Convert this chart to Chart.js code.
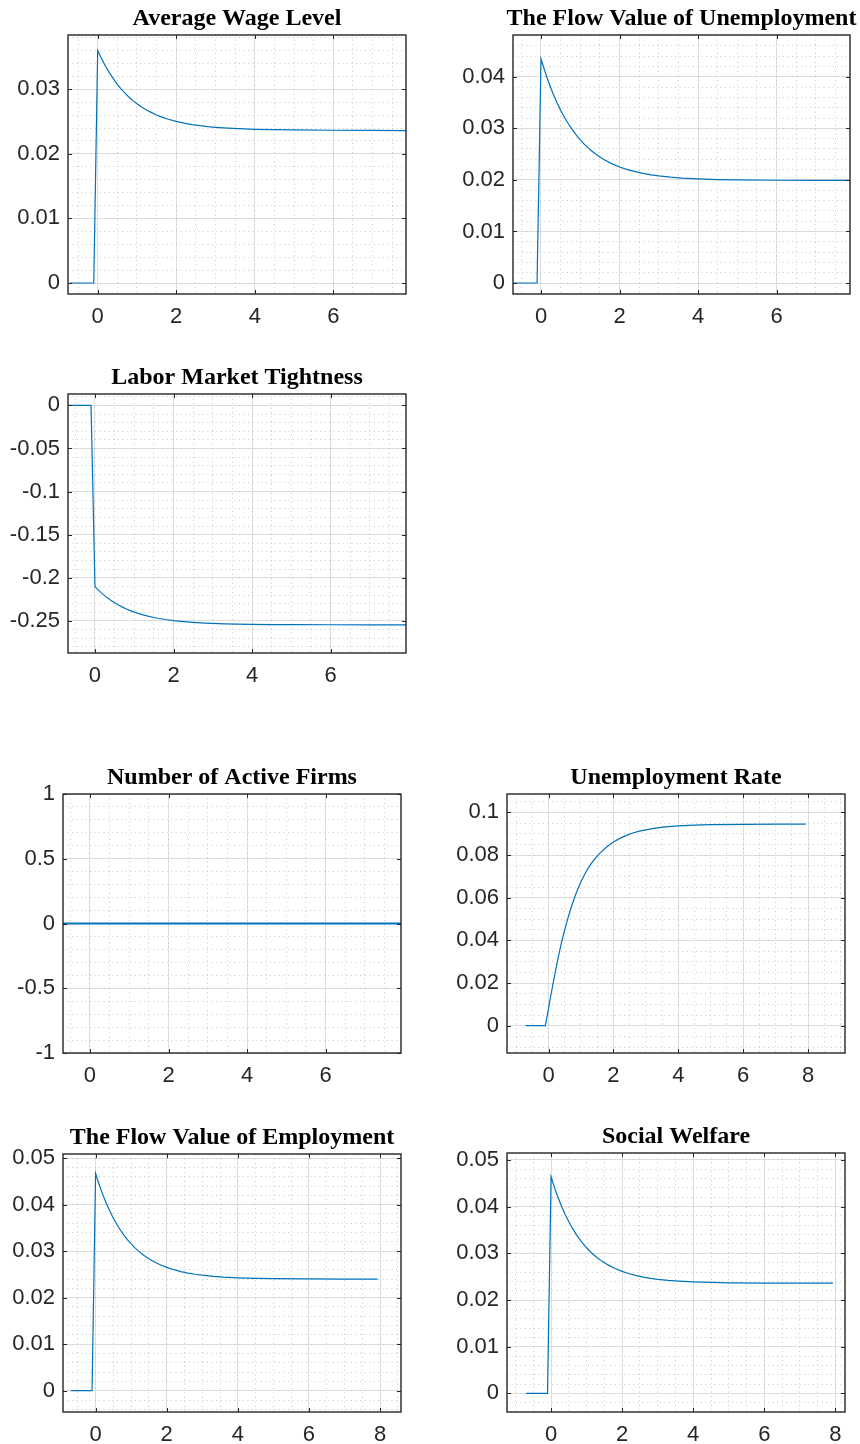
<!DOCTYPE html>
<html>
<head>
<meta charset="utf-8">
<script src="https://cdn.jsdelivr.net/npm/chart.js@4.4.1/dist/chart.umd.min.js"></script>
<style>
  html, body { margin: 0; padding: 0; background: #fff; overflow: hidden; }
  #page { position: relative; width: 860px; height: 1444px; overflow: hidden; }
  #page canvas { position: absolute; }
</style>
</head>
<body>
<div id="page"></div>
<script>
// time after the shock (shared by all panels)
var t = [-0.7, -0.1, 0, 0.05, 0.1, 0.15, 0.2, 0.3, 0.4, 0.5, 0.6, 0.7, 0.8, 0.9, 1.0,
         1.1, 1.2, 1.3, 1.4, 1.5, 1.6, 1.8, 2.0, 2.2, 2.4, 2.6, 2.8, 3.0,
         3.3, 3.6, 4.0, 4.5, 5, 6, 7, 7.93];

// responses
var avgWage = [0, 0, 0.03600, 0.03534, 0.03471, 0.03412, 0.03356, 0.03253, 0.03160, 0.03077, 0.03003, 0.02937, 0.02877, 0.02824, 0.02776,
               0.02733, 0.02695, 0.02661, 0.02630, 0.02602, 0.02577, 0.02536, 0.02502, 0.02475, 0.02453, 0.02436, 0.02422, 0.02411,
               0.02398, 0.02389, 0.02380, 0.02374, 0.02370, 0.02365, 0.02362, 0.02360];
var flowUnemp = [0, 0, 0.04350, 0.04224, 0.04104, 0.03991, 0.03884, 0.03687, 0.03510, 0.03352, 0.03210, 0.03083, 0.02969, 0.02867, 0.02776,
                 0.02694, 0.02620, 0.02555, 0.02496, 0.02443, 0.02396, 0.02316, 0.02251, 0.02200, 0.02159, 0.02125, 0.02099, 0.02077,
                 0.02053, 0.02035, 0.02019, 0.02007, 0.02000, 0.01993, 0.01991, 0.01990];
var tightness = [0, 0, -0.21020, -0.21257, -0.21482, -0.21694, -0.21895, -0.22265, -0.22597, -0.22894, -0.23160, -0.23399, -0.23612, -0.23804, -0.23975,
                 -0.24129, -0.24267, -0.24390, -0.24500, -0.24599, -0.24688, -0.24838, -0.24959, -0.25056, -0.25134, -0.25196, -0.25246, -0.25287,
                 -0.25333, -0.25365, -0.25396, -0.25419, -0.25432, -0.25444, -0.25448, -0.25450];
var activeFirms = [0, 0, 0, 0, 0, 0, 0, 0, 0, 0, 0, 0, 0, 0, 0,
                   0, 0, 0, 0, 0, 0, 0, 0, 0, 0, 0, 0, 0,
                   0, 0, 0, 0, 0, 0, 0, 0];
var unempRate = [0, 0, 0.0080, 0.0125, 0.0165, 0.0205, 0.0245, 0.0320, 0.0390, 0.0450, 0.0505, 0.0555, 0.0600, 0.0640, 0.0675,
                 0.0705, 0.0733, 0.0756, 0.0777, 0.0795, 0.0811, 0.0839, 0.0861, 0.0878, 0.0892, 0.0903, 0.0912, 0.0918,
                 0.0926, 0.0932, 0.0937, 0.0940, 0.0942, 0.0944, 0.0945, 0.0945];
var flowEmp = [0, 0, 0.04670, 0.04549, 0.04433, 0.04325, 0.04222, 0.04032, 0.03862, 0.03710, 0.03573, 0.03451, 0.03342, 0.03244, 0.03156,
               0.03077, 0.03006, 0.02943, 0.02887, 0.02836, 0.02790, 0.02713, 0.02652, 0.02602, 0.02562, 0.02530, 0.02504, 0.02484,
               0.02460, 0.02443, 0.02428, 0.02416, 0.02409, 0.02403, 0.02401, 0.02400];
var welfare = [0, 0, 0.04640, 0.04518, 0.04402, 0.04293, 0.04190, 0.03999, 0.03828, 0.03675, 0.03539, 0.03416, 0.03306, 0.03207, 0.03119,
               0.03040, 0.02969, 0.02906, 0.02849, 0.02798, 0.02752, 0.02675, 0.02613, 0.02563, 0.02523, 0.02491, 0.02465, 0.02444,
               0.02420, 0.02404, 0.02388, 0.02376, 0.02369, 0.02363, 0.02361, 0.02360];

// tick values
var xTicksTo6 = [0, 2, 4, 6];
var xTicksTo8 = [0, 2, 4, 6, 8];
var yTicksWage  = [0, 0.01, 0.02, 0.03];
var yTicksFlowU = [0, 0.01, 0.02, 0.03, 0.04];
var yTicksTight = [-0.25, -0.2, -0.15, -0.1, -0.05, 0];
var yTicksFirms = [-1, -0.5, 0, 0.5, 1];
var yTicksUnemp = [0, 0.02, 0.04, 0.06, 0.08, 0.1];
var yTicksFlowE = [0, 0.01, 0.02, 0.03, 0.04, 0.05];

var YW = 62, XH = 40, TH = 35;
var INK = '#262626';

// box = [left, top, width, height] of the axes box on the page
var panels = [
  {title: 'Average Wage Level', y: avgWage, box: [68, 35, 338, 259], xr: [-0.756, 7.85], yr: [-0.0017, 0.0384], xt: xTicksTo6, yt: yTicksWage, ym: 0.002},
  {title: 'The Flow Value of Unemployment', y: flowUnemp, box: [513, 35, 337, 259], xr: [-0.713, 7.87], yr: [-0.00213, 0.0481], xt: xTicksTo6, yt: yTicksFlowU, ym: 0.002},
  {title: 'Labor Market Tightness', y: tightness, box: [68, 394, 338, 259], xr: [-0.687, 7.92], yr: [-0.2872, 0.0132], xt: xTicksTo6, yt: yTicksTight, ym: 0.01},
  {title: 'Number of Active Firms', y: activeFirms, box: [63, 794, 338, 259], xr: [-0.687, 7.92], yr: [-1, 1], xt: xTicksTo6, yt: yTicksFirms, ym: 0.1, lw: 2},
  {title: 'Unemployment Rate', y: unempRate, box: [507, 794, 338, 259], xr: [-1.28, 9.14], yr: [-0.0128, 0.1086], xt: xTicksTo8, yt: yTicksUnemp, ym: 0.005},
  {title: 'The Flow Value of Employment', y: flowEmp, box: [63, 1154, 338, 258], xr: [-0.917, 8.59], yr: [-0.00458, 0.0509], xt: xTicksTo8, yt: yTicksFlowE, ym: 0.002},
  {title: 'Social Welfare', y: welfare, box: [507, 1153, 338, 259], xr: [-1.24, 8.27], yr: [-0.004, 0.0515], xt: xTicksTo8, yt: yTicksFlowE, ym: 0.002}
];

function minorTicks(lo, hi, step) {
  var out = [];
  for (var k = Math.ceil(lo / step - 1e-9); k * step <= hi + 1e-9; k++) {
    out.push({value: +(k * step).toFixed(6)});
  }
  return out;
}

// axes box with inward ticks, like the original figure
var framePlugin = {
  id: 'frame',
  afterDraw: function(chart) {
    var a = chart.chartArea, ctx = chart.ctx;
    var l = Math.round(a.left), r = Math.round(a.right), tp = Math.round(a.top), b = Math.round(a.bottom);
    ctx.save();
    ctx.strokeStyle = INK;
    ctx.lineWidth = 1.4;
    ctx.strokeRect(l, tp, r - l, b - tp);
    ctx.lineWidth = 1;
    ctx.beginPath();
    chart.scales.x.ticks.forEach(function(tk) {
      var px = Math.round(chart.scales.x.getPixelForValue(tk.value)) + 0.5;
      ctx.moveTo(px, b); ctx.lineTo(px, b - 4);
      ctx.moveTo(px, tp); ctx.lineTo(px, tp + 4);
    });
    chart.scales.y.ticks.forEach(function(tk) {
      var py = Math.round(chart.scales.y.getPixelForValue(tk.value)) + 0.5;
      ctx.moveTo(l, py); ctx.lineTo(l + 4, py);
      ctx.moveTo(r, py); ctx.lineTo(r - 4, py);
    });
    ctx.stroke();
    ctx.restore();
  }
};

var page = document.getElementById('page');
var tickFont = {family: 'Liberation Sans', size: 22};

panels.forEach(function(p) {
  var w = p.box[2] + 2 * YW, h = TH + p.box[3] + XH;
  var c = document.createElement('canvas');
  c.width = w; c.height = h;
  c.style.left = (p.box[0] - YW) + 'px';
  c.style.top = (p.box[1] - TH) + 'px';
  c.style.width = w + 'px'; c.style.height = h + 'px';
  page.appendChild(c);

  new Chart(c, {
    type: 'line',
    data: {
      datasets: [{
        data: t.map(function(x, i) { return {x: x, y: p.y[i]}; }),
        borderColor: '#0072BD',
        borderWidth: p.lw || 1.2,
        pointRadius: 0,
        tension: 0,
        fill: false,
        xAxisID: 'x',
        yAxisID: 'y'
      }]
    },
    options: {
      responsive: false,
      animation: false,
      events: [],
      layout: {padding: 0},
      plugins: {
        legend: {display: false},
        tooltip: {enabled: false},
        title: {
          display: true,
          text: p.title,
          color: '#000',
          font: {family: 'Liberation Serif', size: 24, weight: 'bold', lineHeight: 1.2},
          padding: {top: 4.4, bottom: 1.8}
        }
      },
      scales: {
        x: {
          type: 'linear', position: 'bottom', min: p.xr[0], max: p.xr[1],
          afterBuildTicks: function(s) { s.ticks = p.xt.map(function(v) { return {value: v}; }); },
          afterFit: function(s) { s.height = XH; },
          ticks: {padding: 10, color: INK, font: tickFont, autoSkip: false, maxRotation: 0,
                  callback: function(v) { return String(v); }},
          grid: {color: '#e2e2e2', lineWidth: 1, drawTicks: false},
          border: {display: false}
        },
        y: {
          type: 'linear', position: 'left', min: p.yr[0], max: p.yr[1],
          afterBuildTicks: function(s) { s.ticks = p.yt.map(function(v) { return {value: v}; }); },
          afterFit: function(s) { s.width = YW; },
          ticks: {padding: 8, color: INK, font: tickFont, autoSkip: false,
                  callback: function(v) { return String(v); }},
          grid: {color: '#e2e2e2', lineWidth: 1, drawTicks: false},
          border: {display: false}
        },
        xm: {
          type: 'linear', position: 'bottom', min: p.xr[0], max: p.xr[1], z: -1,
          afterBuildTicks: function(s) { s.ticks = minorTicks(p.xr[0], p.xr[1], 0.5); },
          afterFit: function(s) { s.height = 0; },
          ticks: {display: false},
          grid: {color: '#c8c8c8', lineWidth: 1, drawTicks: false},
          border: {display: false, dash: [1, 3.5]}
        },
        ym: {
          // sits on the right so the chart area stays centred under the title
          type: 'linear', position: 'right', min: p.yr[0], max: p.yr[1], z: -1,
          afterBuildTicks: function(s) { s.ticks = minorTicks(p.yr[0], p.yr[1], p.ym); },
          afterFit: function(s) { s.width = YW; },
          ticks: {display: false},
          grid: {color: '#c8c8c8', lineWidth: 1, drawTicks: false},
          border: {display: false, dash: [1, 3.5]}
        }
      }
    },
    plugins: [framePlugin]
  });
});
</script>
</body>
</html>
